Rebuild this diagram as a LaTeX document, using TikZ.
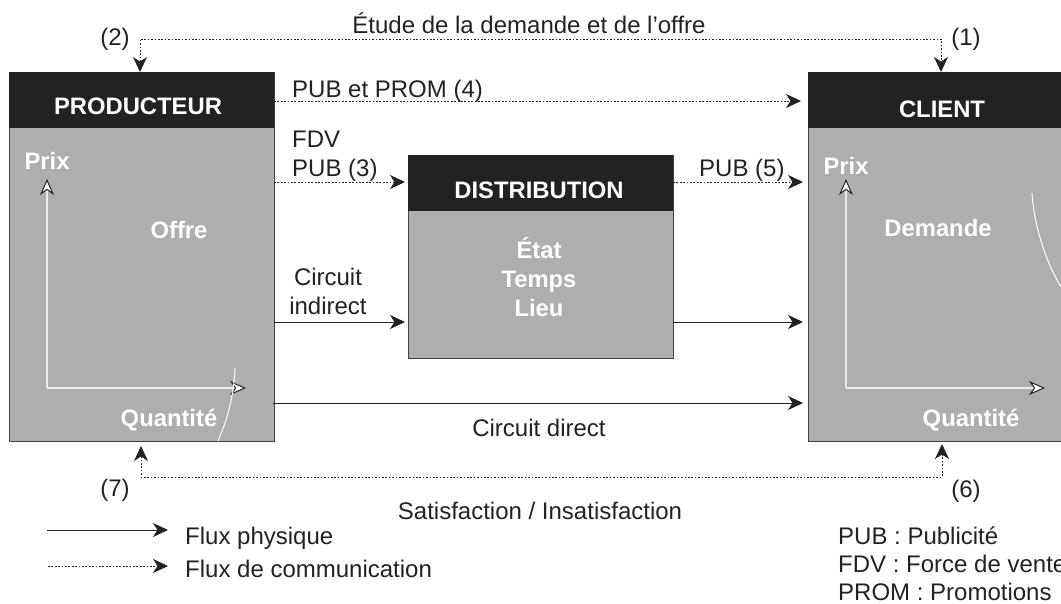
\documentclass[tikz,border=0pt]{standalone}
\usepackage{fontspec}
\setmainfont{Liberation Sans}
\usetikzlibrary{arrows.meta}
\definecolor{ink}{HTML}{222222}
\definecolor{panel}{HTML}{AEAEAE}
\tikzset{
  x=1pt,y=-1pt,
  bodybox/.style={draw=ink!85,line width=1pt,fill=panel,anchor=north west,inner sep=0pt,outer sep=0pt},
  headbox/.style={fill=ink,anchor=north west,inner sep=0pt,outer sep=0pt,text=white},
  whitetxt/.style={text=white,font=\fontsize{23.8}{28}\selectfont\bfseries,inner sep=0pt,anchor=base},
  blacktxt/.style={text=ink,font=\fontsize{24}{28}\selectfont,inner sep=0pt,anchor=base},
  leftbase/.style={anchor=base west},
  mytip/.tip={Stealth[length=15pt,width=14pt,inset=4.5pt]},
  phys/.style={draw=ink,line width=.9pt,-mytip},
  comm/.style={draw=ink,line width=1pt,dash pattern=on 1.7pt off 1.7pt,-mytip},
  commboth/.style={draw=ink,line width=1pt,dash pattern=on 1.7pt off 1.7pt,mytip-mytip},
  axisline/.style={draw=white!92!black,line width=1.3pt,-{Stealth[length=16pt,width=14pt,inset=5pt,fill=white,color=ink,line width=1pt]}},
  whitecurve/.style={draw=white,line width=1pt}
}
\begin{document}
\begin{tikzpicture}
\path[clip] (0,0) rectangle (1061,603);
\useasboundingbox (0,0) rectangle (1061,603);
% boxes
\node[bodybox,minimum width=265pt,minimum height=369pt] (prod) at (9,72) {};
\node[headbox,minimum width=265pt,minimum height=56pt] (prodh) at (9,72) {};
\node[bodybox,minimum width=265pt,minimum height=203pt] (dist) at (408,155) {};
\node[headbox,minimum width=265pt,minimum height=56pt] (disth) at (408,155) {};
\node[bodybox,minimum width=300pt,minimum height=369pt] (cli) at (808,72) {};
\node[headbox,minimum width=300pt,minimum height=56pt] (clih) at (808,72) {};
% header texts
\node[whitetxt] (tprod) at (138,114) {PRODUCTEUR};
\node[whitetxt] (tdist) at (539,198) {DISTRIBUTION};
\node[whitetxt] (tcli) at (942,117) {CLIENT};
% body texts
\node[whitetxt] (p1) at (47,169) {Prix};
\node[whitetxt] (of) at (179,238) {Offre};
\node[whitetxt] (q1) at (169,426) {Quantité};
\node[whitetxt] (p2) at (846,174) {Prix};
\node[whitetxt] (dm) at (938,236) {Demande};
\node[whitetxt] (q2) at (971,426) {Quantité};
\node[whitetxt] (e1) at (539,258) {État};
\node[whitetxt] (e2) at (539,287) {Temps};
\node[whitetxt] (e3) at (539,316) {Lieu};
% axes
\coordinate (o1) at (47,388);
\coordinate (ay1) at (47,179);
\coordinate (ax1) at (246,388);
\coordinate (o2) at (846,388);
\coordinate (ay2) at (846,179);
\coordinate (ax2) at (1045,388);
\draw[axisline] (o1) -- (ay1);
\draw[axisline] (o1) -- (ax1);
\draw[axisline] (o2) -- (ay2);
\draw[axisline] (o2) -- (ax2);
\coordinate (c1a) at (235,368);
\coordinate (c1b) at (218,441);
\coordinate (c2a) at (1032,193);
\coordinate (c2b) at (1061,287);
\draw[whitecurve] (c1a) .. controls (234,395) and (228,418) .. (c1b);
\draw[whitecurve] (c2a) .. controls (1034,225) and (1045,260) .. (c2b);
% connector ends
\coordinate (a1) at (274,101);
\coordinate (a2) at (801,101);
\coordinate (b1) at (274,182);
\coordinate (b2) at (405,182);
\coordinate (d1) at (673,182);
\coordinate (d2) at (803,182);
\coordinate (g1) at (274,322);
\coordinate (g2) at (405,322);
\coordinate (h1) at (673,322);
\coordinate (h2) at (803,322);
\coordinate (i1) at (273,403);
\coordinate (i2) at (803,403);
\draw[comm] (a1) -- (a2);
\draw[comm] (b1) -- (b2);
\draw[comm] (d1) -- (d2);
\draw[phys] (g1) -- (g2);
\draw[phys] (h1) -- (h2);
\draw[phys] (i1) -- (i2);
% top and bottom loops
\coordinate (t1) at (140,72);
\coordinate (t2) at (140,39);
\coordinate (t3) at (941,39);
\coordinate (t4) at (941,72);
\draw[commboth] (t1) -- (t2) -- (t3) -- (t4);
\coordinate (u1) at (141,446);
\coordinate (u2) at (141,477);
\coordinate (u3) at (942,477);
\coordinate (u4) at (942,444);
\draw[commboth] (u1) -- (u2) -- (u3) -- (u4);
% labels
\node[blacktxt] (l1) at (529,33) {Étude de la demande et de l’offre};
\node[blacktxt] (l2) at (115,45) {(2)};
\node[blacktxt] (l3) at (966,45) {(1)};
\node[blacktxt,leftbase] (l4) at (292,97) {PUB et PROM (4)};
\node[blacktxt,leftbase] (l5) at (292,147) {FDV};
\node[blacktxt,leftbase] (l6) at (292,176) {PUB (3)};
\node[blacktxt,leftbase] (l7) at (699,176) {PUB (5)};
\node[blacktxt] (l8) at (328,285) {Circuit};
\node[blacktxt] (l9) at (328,314) {indirect};
\node[blacktxt] (l10) at (539,436) {Circuit direct};
\node[blacktxt] (l11) at (115,496) {(7)};
\node[blacktxt] (l12) at (966,497) {(6)};
\node[blacktxt] (l13) at (540,519) {Satisfaction / Insatisfaction};
\node[blacktxt,leftbase] (l14) at (185,544) {Flux physique};
\node[blacktxt,leftbase] (l15) at (185,577) {Flux de communication};
\node[blacktxt,leftbase] (l16) at (838,544) {PUB : Publicité};
\node[blacktxt,leftbase] (l17) at (838,572) {FDV : Force de vente};
\node[blacktxt,leftbase] (l18) at (838,600) {PROM : Promotions};
% legend
\coordinate (k1) at (47,530);
\coordinate (k2) at (168,530);
\coordinate (m1) at (48,566);
\coordinate (m2) at (168,566);
\draw[phys] (k1) -- (k2);
\draw[comm,line width=.7pt] (m1) -- (m2);
\end{tikzpicture}
\end{document}
